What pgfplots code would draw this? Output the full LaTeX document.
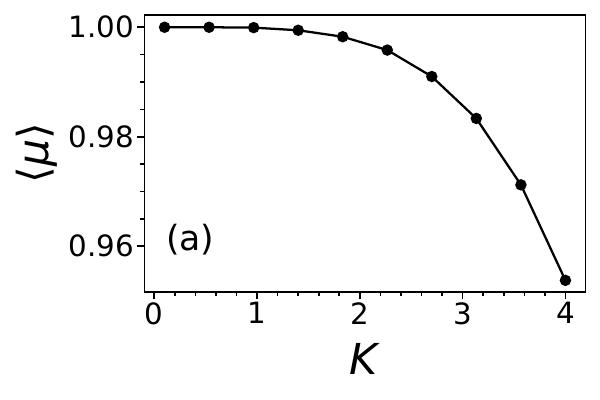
\documentclass[border=0pt]{standalone}
\usepackage{fontspec}
\setmainfont{DejaVu Sans}
\usepackage{pgfplots}
\pgfplotsset{compat=1.18}

\begin{document}
\begin{tikzpicture}
\begin{axis}[
    name=ax,
    scale only axis,
    width=330.75pt, height=207.75pt,
    xmin=-0.095, xmax=4.195,
    ymin=0.9517, ymax=1.0023,
    xtick={0,1,2,3,4},
    ytick={0.96,0.98,1.00},
    minor x tick num=4,
    minor y tick num=3,
    xtick pos=bottom, ytick pos=left,
    tick align=outside,
    major tick length=5.6pt,
    minor tick length=3.2pt,
    tick style={black, line width=1.2pt},
    axis line style={line width=1.4pt},
    /pgf/number format/assume math mode=true,
    yticklabel style={/pgf/number format/fixed, /pgf/number format/fixed zerofill, /pgf/number format/precision=2},
    ticklabel style={font=\fontsize{22}{26}\selectfont},
    xticklabel style={yshift=1pt},
    yticklabel style={xshift=1pt},
    xlabel={\textit{K}},
    ylabel={⟨\textit{μ}⟩},
    label style={font=\fontsize{32}{38}\selectfont},
    xlabel style={at={(axis description cs:0.5,-0.243)}, anchor=center},
    ylabel style={at={(axis description cs:-0.244,0.5)}, anchor=center},
]
\addplot[black, line width=1.7pt, mark=*, mark size=3.4pt] coordinates {
    (0.100, 1.00000)
    (0.533, 1.00000)
    (0.967, 0.99993)
    (1.400, 0.99945)
    (1.833, 0.99827)
    (2.267, 0.99583)
    (2.700, 0.99100)
    (3.133, 0.98334)
    (3.567, 0.97121)
    (4.000, 0.95376)
};
\node[font=\fontsize{26}{30}\selectfont] at (axis cs:0.351,0.9612) {(a)};
\end{axis}
\pgfresetboundingbox
\path[use as bounding box] ([shift={(-108.4pt,-81.2pt)}]ax.south west) rectangle ([shift={(10.9pt,11pt)}]ax.north east);
\end{tikzpicture}
\end{document}
